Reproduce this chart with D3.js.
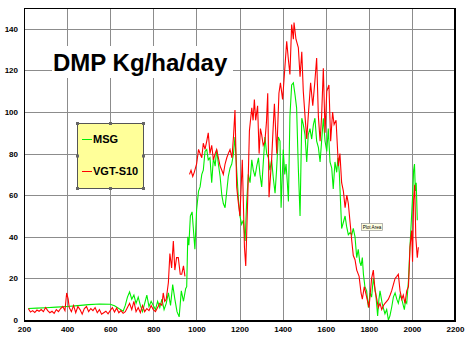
<!DOCTYPE html>
<html>
<head>
<meta charset="utf-8">
<script src="https://cdn.jsdelivr.net/npm/d3@7/dist/d3.min.js"></script>
<style>
  html, body { margin: 0; padding: 0; background: #fff; }
  svg { display: block; }
  text { font-family: Arial, "Liberation Sans", sans-serif; }
</style>
</head>
<body>
<svg id="chart" width="469" height="340"></svg>
<script>
// Dry matter productivity, day index vs Kg/ha/day
const xTicks = [200, 400, 600, 800, 1000, 1200, 1400, 1600, 1800, 2000, 2200];
const yTicks = [0, 20, 40, 60, 80, 100, 120, 140];

const msgDay = [
  220,260,300,350,400,450,500,550,600,620,640,660,
  670,680,690,700,710,720,730,740,750,760,
  770,780,790,800,810,820,830,840,850,860,
  870,880,890,900,910,920,930,940,950,955,960,
  965,972,980,993,1001,1010,1017,1025,1032,1040,1048,1055,1063,
  1071,1079,1087,1094,1102,1110,1118,1125,1133,1141,
  1148,1156,1164,1172,1179,1187,1195,1202,1210,1218,
  1226,1233,1241,1249,1257,1264,1272,1280,1288,1295,
  1303,1310,1318,1326,1334,1341,1349,1357,1365,1372,
  1380,1388,1393,1403,1410,1416,1422,1427,1434,1442,
  1450,1458,1465,1473,1481,1489,1496,1504,1512,1519,
  1527,1535,1543,1550,1558,1566,1574,1581,1589,1597,
  1605,1612,1620,1628,1635,1643,1651,1657,1663,1670,
  1674,1682,1690,1697,1705,1713,1721,1728,1736,1744,
  1751,1758,1764,1770,1775,1782,1790,1798,1806,1813,
  1821,1827,1832,1841,1847,1852,1857,1862,1867,1875,
  1883,1891,1898,1906,1914,1922,1930,1937,1945,1953,
  1960,1965,1970,1976,1984,1991,1999,2004,2008,2012,2016,2020,2025
];
const msgVal = [
  5.5,5.7,5.9,6.2,6.5,6.9,7.4,7.7,7.6,6.8,5.5,4.2,
  7,11,13.5,10,12,8,11,7,4,8,
  12,6.5,9,7,5,9,6,10,5,8,
  13,7,17,10,4,1.5,14,9,15,16,40,
  36,50,52,34,53,62,64,70,72,81,82,77,78,
  66,78,74,82,75,69,60,56,54,62,
  69,73,75,80,88,72,58,50,46,48,
  38,56,70,66,77,72,69,74,78,70,
  64,75,88,80,78,72,77,68,61,72,
  88,86,54,82,70,75,66,57,98,113,
  114,108,102,73,50,97,94,89,76,89,
  92,87,94,97,86,83,76,86,97,86,
  81,92,76,73,63,76,71,78,71,54,
  44,47,50,45,41,42,41,44,40,30,
  34,28,26,30,22,16,14,6,13,11,
  20,16,13,2,10,14,11,8,6,3,
  5,0,2,6,11,13,10,8,12,10,
  7,5,9,8,19,35,51,61,72,75,62,66,48
];

const vgtDay = [
  220,230,240,250,260,270,280,290,300,310,
  320,330,340,350,360,370,380,390,398,405,
  410,420,430,440,450,460,470,480,490,500,
  510,520,530,540,550,560,570,580,590,600,
  610,620,630,640,650,660,670,680,690,700,
  710,720,730,740,750,760,770,780,790,800,
  810,820,830,840,846,853,860,870,877,885,
  893,900,908,916,925,932,940,947,955,
  968,975,983,990,1001,1010,1017,1025,1032,1040,
  1048,1055,1063,1071,1079,1087,1094,1102,1110,1118,
  1125,1133,1141,1148,1156,1165,1172,1179,1187,1195,
  1202,1213,1223,1229,1238,1246,1257,1263,1269,1275,
  1284,1291,1297,1303,1310,1318,1325,1331,1337,1349,
  1356,1362,1373,1383,1390,1400,1411,1419,1427,1434,
  1442,1450,1453,1462,1473,1481,1489,1496,1504,1512,
  1519,1530,1540,1550,1558,1566,1574,1581,1589,1597,
  1605,1615,1623,1632,1639,1648,1659,1666,1674,1682,
  1690,1698,1705,1713,1721,1728,1736,1744,1755,1764,
  1770,1779,1790,1801,1813,1821,1829,1837,1844,1852,
  1860,1868,1875,1883,1891,1899,1906,1914,1922,1930,
  1937,1945,1953,1960,1968,1976,1984,1988,1991,1999,
  2003,2008,2013,2018,2025,2030
];
const vgtVal = [
  5.5,3.8,4.5,3.6,4.8,4.2,5,4,6,4.5,
  3.5,4.2,3.2,5,4,5.5,6.5,4.5,13,10,
  6,4,7,3.5,6.5,5,2.8,5.5,6.5,4,
  5.5,4.5,6,3.5,5,2.8,3.5,4.2,3,4.5,
  6,3.8,5.8,3.5,4.5,3.2,4,6,8,5,
  9,4,6,3.5,7,4,5.5,4.5,7,5,
  4,6,8,7,13,9,10,18,32,25,
  38,24,30,30,22,22,26,21,null,
  70,72,69,71,75,82,80,78,85,82,
  86,90,80,84,77,80,82,78,74,72,
  70,75,78,80,82,78,88,101,64,56,
  50,77,35,26,58,91,102,96,106,96,
  103,80,92,89,84,86,95,109,59,77,
  92,104,80,109,114,106,122,134,125,118,
  142,135,143,135,131,117,129,110,98,87,
  98,114,103,115,126,98,86,98,121,90,
  110,113,86,100,94,96,74,80,66,62,
  54,60,56,47,38,31,29,24,21,13,
  10,16,11,6,20,24,14,10,6,8,
  5,7,8,9,10,12,14,17,20,21,
  22,14,10,12,8,14,16,26,35,43,
  28,58,65,40,30,35
];

const svg = d3.select("#chart");
const plotLeft = 24, plotRight = 455, plotTop = 8, plotBottom = 320;

const x = d3.scaleLinear().domain([200, 2200]).range([plotLeft, plotRight]);
const y = d3.scaleLinear().domain([0, 150]).range([plotBottom, plotTop]);

// grid
const grid = svg.append("g").attr("stroke", "#8c8c8c").attr("stroke-width", 1);
grid.selectAll("line.v").data(xTicks.slice(1, -1)).join("line")
  .attr("class", "v")
  .attr("x1", d => Math.round(x(d)) + 0.5).attr("x2", d => Math.round(x(d)) + 0.5)
  .attr("y1", plotTop).attr("y2", plotBottom);
grid.selectAll("line.h").data(yTicks.slice(1)).join("line")
  .attr("class", "h")
  .attr("y1", d => Math.round(y(d)) + 0.5).attr("y2", d => Math.round(y(d)) + 0.5)
  .attr("x1", plotLeft).attr("x2", plotRight);

// series
const seriesPath = (days, vals) => d3.line()
  .defined((d, i) => vals[i] !== null)
  .x((d, i) => x(days[i]))
  .y((d, i) => y(vals[i]))(days);

svg.append("path").attr("d", seriesPath(msgDay, msgVal))
  .attr("fill", "none").attr("stroke", "#00ee00").attr("stroke-width", 1.1);
svg.append("path").attr("d", seriesPath(vgtDay, vgtVal))
  .attr("fill", "none").attr("stroke", "#ff0000").attr("stroke-width", 1.1);

// frame
svg.append("rect").attr("x", plotLeft + 0.5).attr("y", plotTop + 0.5)
  .attr("width", plotRight - plotLeft - 1).attr("height", plotBottom - plotTop)
  .attr("fill", "none").attr("stroke", "#000").attr("stroke-width", 1);
svg.append("path")
  .attr("d", `M${plotRight},${plotTop} V${plotBottom + 1} H${plotLeft}`)
  .attr("fill", "none").attr("stroke", "#000").attr("stroke-width", 2);

// axes
const fmt = d3.format("d");
const xAxis = d3.axisBottom(x).tickValues(xTicks).tickFormat(fmt).tickSize(0).tickPadding(6);
const gx = svg.append("g").attr("transform", `translate(0,${plotBottom})`).call(xAxis);
gx.select(".domain").remove();
gx.selectAll("text").attr("font-size", 8).attr("font-weight", "bold")
  .attr("font-family", "Arial, 'Liberation Sans', sans-serif").attr("fill", "#000");

const yAxis = d3.axisLeft(y).tickValues(yTicks).tickFormat(fmt).tickSize(0).tickPadding(6);
const gy = svg.append("g").attr("transform", `translate(${plotLeft},0)`).call(yAxis);
gy.select(".domain").remove();
gy.selectAll("text").attr("font-size", 8).attr("font-weight", "bold")
  .attr("font-family", "Arial, 'Liberation Sans', sans-serif").attr("fill", "#000");

// title
svg.append("rect").attr("x", 52).attr("y", 46).attr("width", 181).attr("height", 32).attr("fill", "#fff");
svg.append("text").attr("x", 53).attr("y", 71)
  .attr("font-size", 24).attr("font-weight", "bold").attr("fill", "#000")
  .text("DMP Kg/ha/day");

// legend
const lg = svg.append("g");
const lx = 77, ly = 123, lw = 66, lh = 65;
lg.append("rect").attr("x", lx + 0.5).attr("y", ly + 0.5).attr("width", lw).attr("height", lh)
  .attr("fill", "#ffff99").attr("stroke", "#555").attr("stroke-width", 1);
const handles = [];
[0, 0.5, 1].forEach(fx => [0, 0.5, 1].forEach(fy => {
  if (!(fx === 0.5 && fy === 0.5)) handles.push([lx + 0.5 + fx * lw, ly + 0.5 + fy * lh]);
}));
lg.selectAll("rect.hd").data(handles).join("rect")
  .attr("class", "hd")
  .attr("x", d => d[0] - 1.5).attr("y", d => d[1] - 1.5).attr("width", 3).attr("height", 3)
  .attr("fill", "#666");

const legendItems = [
  { name: "MSG", color: "#00ee00", yy: 139 },
  { name: "VGT-S10", color: "#ff0000", yy: 171 }
];
legendItems.forEach(it => {
  lg.append("line").attr("x1", 82).attr("x2", 92).attr("y1", it.yy + 0.5).attr("y2", it.yy + 0.5)
    .attr("stroke", it.color).attr("stroke-width", 1);
  lg.append("text").attr("x", 93).attr("y", it.yy + 4)
    .attr("font-size", 11).attr("font-weight", "bold").attr("fill", "#000").text(it.name);
});

// plot area hint
const tip = svg.append("g");
tip.append("rect").attr("x", 361.5).attr("y", 223.5).attr("width", 21).attr("height", 7)
  .attr("fill", "#ffffe1").attr("stroke", "#888").attr("stroke-width", 0.6);
tip.append("text").attr("x", 372).attr("y", 229).attr("text-anchor", "middle")
  .attr("font-size", 4.6).attr("fill", "#000").text("Plot Area");
</script>
</body>
</html>
